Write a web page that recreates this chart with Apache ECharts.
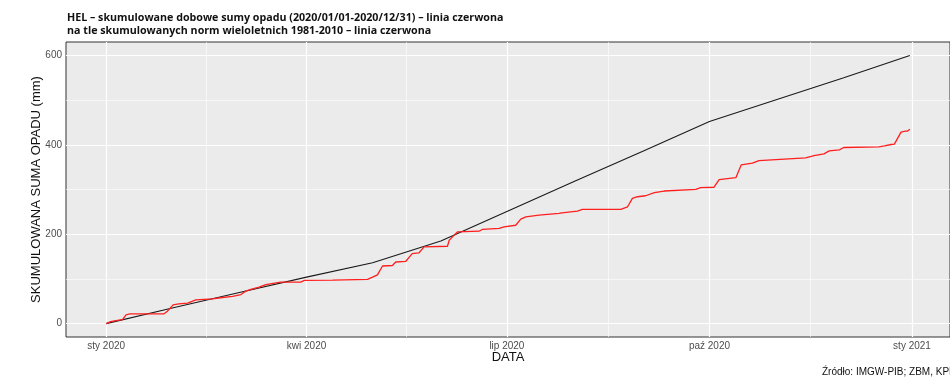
<!DOCTYPE html>
<html>
<head>
<meta charset="utf-8">
<script src="https://cdn.jsdelivr.net/npm/echarts@6/dist/echarts.min.js"></script>
<style>
    html, body { margin: 0; padding: 0; background: #fff; }
    #chart { width: 950px; height: 377px; }
</style>
</head>
<body>
<div id="chart"></div>
<script>
    // dni od 1 stycznia 2020
    const xTickDays = [0, 91, 182, 274, 366];
    const xTickLabels = ['sty 2020', 'kwi 2020', 'lip 2020', 'paź 2020', 'sty 2021'];
    const xMinorDays = [45.5, 136.5, 228, 320];
    const yTicks = [0, 200, 400, 600];
    const yMinor = [100, 300, 500];

    // normy wieloletnie 1981-2010 (skumulowane)
    const normDays = [0, 31, 60, 91, 121, 152, 182, 213, 244, 274, 305, 335, 365];
    const normValues = [0, 36, 69, 104, 136, 185, 251, 319, 386, 452, 502, 550, 600];

    // opad 2020 (skumulowany)
    const rainDays = [0, 2, 4.4, 7.4, 9, 10.8, 26.3, 27.8, 30.4, 33, 37, 40.7, 48.3, 52, 57.4, 61.2, 63.4, 65.7, 69.5,
        72.5, 79.3, 88.4, 90, 102.8, 118.7, 121, 123.2, 125.5, 130, 131.5, 136, 139, 142, 144.4, 155, 155.8, 157.3,
        159.5, 169.4, 171, 178.5, 180.7, 186, 188.3, 190.6, 196.6, 205.7, 207, 214, 216.3, 233.7, 236.8, 239, 241.3,
        245, 249, 253.4, 267.8, 270, 276, 278.4, 286, 288.4, 293.5, 296.5, 297.3, 317.7, 321.5, 326, 328.4, 333, 335,
        351, 353.5, 356.5, 358, 361, 363, 364, 365];
    const rainValues = [0, 4.5, 6.7, 9, 19.5, 21.8, 21.8, 27.7, 42, 44, 45.6, 53, 55.5, 57.8, 60.7, 65, 72.6, 76.4, 81.6,
        87, 92.8, 92.8, 96.6, 97.3, 98.9, 104, 109, 128.8, 130, 137.8, 139, 156.6, 158, 171.5, 173, 186.5, 194,
        205, 206.7, 211, 212.8, 216.4, 220, 233.7, 238.9, 242.7, 246.5, 247.9, 251.7, 255.5, 255.5, 261.3, 280, 283.8,
        286, 292.8, 296.6, 300.4, 304, 305, 322, 326.5, 355, 358.9, 364.7, 367.9, 370.8, 376, 379.8, 386.5, 388.8, 394,
        395.5, 397.8, 400.7, 401.6, 428.5, 430.8, 430.8, 435];

    const chart = echarts.init(document.getElementById('chart'));

    const gridLines = [];
    yMinor.forEach(v => gridLines.push({ yAxis: v, lineStyle: { width: 0.6 } }));
    xMinorDays.forEach(v => gridLines.push({ xAxis: v, lineStyle: { width: 0.6 } }));
    yTicks.forEach(v => gridLines.push({ yAxis: v, lineStyle: { width: 1.2 } }));
    xTickDays.forEach(v => gridLines.push({ xAxis: v, lineStyle: { width: 1.2 } }));

    chart.setOption({
        animation: false,
        title: {
            text: 'HEL – skumulowane dobowe sumy opadu (2020/01/01-2020/12/31) – linia czerwona\nna tle skumulowanych norm wieloletnich 1981-2010 – linia czerwona',
            left: 62,
            top: 6,
            textStyle: {
                fontFamily: 'Open Sans',
                fontSize: 10.7,
                fontWeight: 'bold',
                color: '#111',
                lineHeight: 13
            }
        },
        graphic: [{
            type: 'text',
            left: 822,
            top: 367,
            style: {
                text: 'Źródło: IMGW-PIB; ZBM, KPD',
                font: '10px "Liberation Sans"',
                fill: '#111'
            }
        }],
        grid: {
            left: 66,
            right: -1,
            top: 42,
            bottom: 40,
            show: true,
            backgroundColor: '#EBEBEB',
            borderColor: '#333',
            borderWidth: 1
        },
        xAxis: {
            type: 'value',
            min: -18.25,
            max: 383.25,
            name: 'DATA',
            nameLocation: 'middle',
            nameGap: 14,
            nameMoveOverlap: false,
            nameTextStyle: { fontFamily: 'Liberation Sans', fontSize: 13, color: '#111' },
            axisLine: { show: false },
            axisTick: { show: true, length: 3, customValues: xTickDays, lineStyle: { color: '#333' } },
            axisLabel: {
                customValues: xTickDays,
                margin: 4,
                fontFamily: 'Liberation Sans',
                fontSize: 10,
                color: '#4D4D4D',
                formatter: v => xTickLabels[xTickDays.indexOf(v)]
            },
            splitLine: { show: false }
        },
        yAxis: {
            type: 'value',
            min: -30,
            max: 630,
            name: 'SKUMULOWANA SUMA OPADU (mm)',
            nameLocation: 'middle',
            nameGap: 23.5,
            nameMoveOverlap: false,
            nameTextStyle: { fontFamily: 'Liberation Sans', fontSize: 13, color: '#111' },
            axisLine: { show: false },
            axisTick: { show: true, length: 3, customValues: yTicks, lineStyle: { color: '#333' } },
            axisLabel: {
                customValues: yTicks,
                margin: 4,
                fontFamily: 'Liberation Sans',
                fontSize: 10,
                color: '#4D4D4D'
            },
            splitLine: { show: false }
        },
        series: [
            {
                name: 'siatka',
                type: 'line',
                data: [],
                z: 1,
                silent: true,
                markLine: {
                    z: 1,
                    silent: true,
                    symbol: 'none',
                    label: { show: false },
                    animation: false,
                    lineStyle: { color: '#fff', type: 'solid' },
                    data: gridLines
                }
            },
            {
                name: 'norma',
                type: 'line',
                z: 3,
                showSymbol: false,
                lineStyle: { color: '#1a1a1a', width: 1.1 },
                data: normDays.map((d, i) => [d, normValues[i]])
            },
            {
                name: 'opad',
                type: 'line',
                z: 4,
                showSymbol: false,
                lineStyle: { color: '#FF1f1f', width: 1.3 },
                data: rainDays.map((d, i) => [d, rainValues[i]])
            }
        ]
    });
</script>
</body>
</html>
